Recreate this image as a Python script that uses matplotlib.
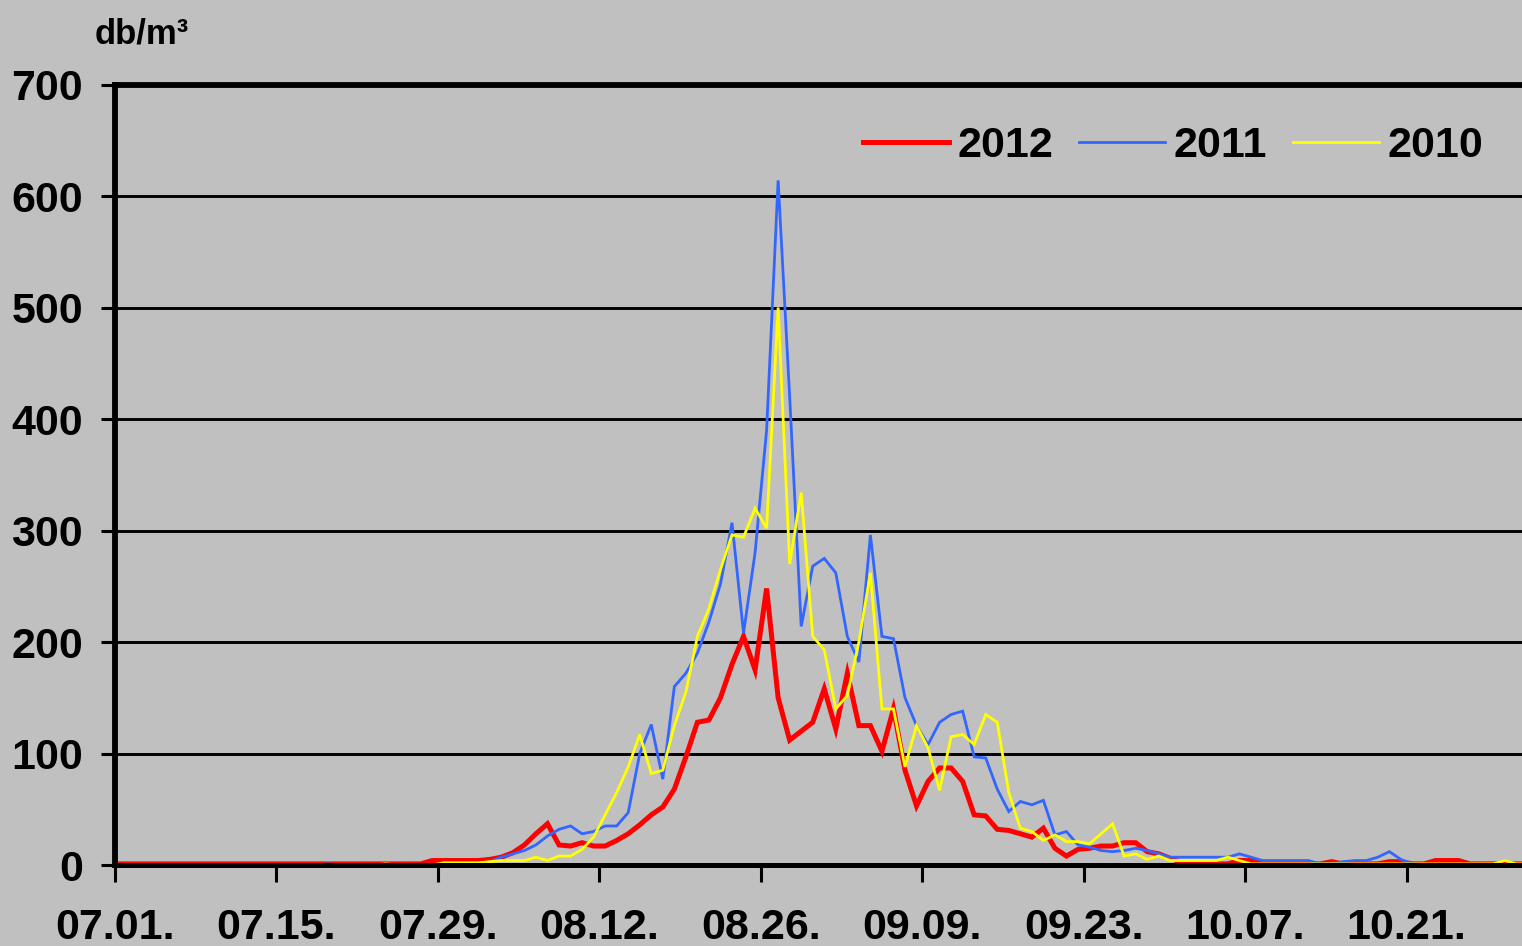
import numpy as np
import matplotlib
matplotlib.use("Agg")
import matplotlib.pyplot as plt

# daily values, 1 July .. 31 October (db/m3)
y2012 = [1] * 27 + [4, 4, 4, 4, 4, 5,
         7, 11, 18, 28, 37, 18, 17, 20, 17, 17,
         22, 28, 36, 45, 52, 68, 97, 128, 130, 150,
         180, 205, 175, 248, 150, 112, 120, 128, 158, 122,
         172, 125, 125, 102, 140, 85, 53, 75, 87, 87,
         75, 45, 44, 32, 31, 28, 25, 33, 15, 8,
         14, 15, 17, 17, 20, 20, 12, 10, 6, 2,
         1, 1, 1, 1, 4, 4, 1, 1, 1, 1,
         1, 1, 3, 1, 1, 1, 1, 3, 3, 1,
         1, 4, 4, 4, 1, 1, 1, 1, 1, 1, 1, 1]

y2011 = [0] * 18 + [1] + [0] * 9 + [1, 1, 1, 1, 3,
         7, 10, 13, 18, 26, 32, 35, 28, 30, 35,
         35, 47, 100, 126, 77, 160, 172, 190, 218, 252,
         307, 208, 280, 390, 614, 420, 214, 268, 275, 262,
         205, 182, 296, 205, 203, 150, 125, 108, 128, 135,
         138, 97, 96, 68, 48, 57, 54, 58, 27, 30,
         18, 16, 13, 12, 13, 15, 13, 10, 7, 7,
         7, 7, 7, 7, 10, 7, 4, 4, 4, 4,
         4, 1, 1, 3, 4, 4, 7, 12, 5, 1,
         0, 0, 0, 0, 0, 0, 0, 0, 0, 0]

y2010 = [0] * 23 + [1] + [0] * 4 + [2, 2, 2, 2, 3,
         4, 4, 4, 7, 4, 8, 8, 14, 25, 45,
         65, 88, 117, 82, 85, 125, 155, 205, 230, 265,
         296, 294, 320, 302, 500, 270, 334, 205, 193, 140,
         152, 200, 262, 140, 140, 88, 125, 105, 67, 115,
         117, 108, 135, 128, 65, 33, 30, 22, 27, 21,
         21, 19, 28, 37, 8, 10, 5, 8, 4, 4,
         4, 4, 4, 7, 4, 1, 1, 1, 1, 1,
         1, 1, 1, 1, 1, 1, 1, 1, 1, 1,
         1, 1, 1, 1, 1, 1, 1, 4, 1, 1, 1, 1, 1]

series_names = ["2012", "2011", "2010"]
series_colors = ["#FF0000", "#3366FF", "#FFFF00"]
series_widths = [3.6, 2.0, 2.0]

tick_days = [0, 14, 28, 42, 56, 70, 84, 98, 112]
tick_labels = ["07.01.", "07.15.", "07.29.", "08.12.", "08.26.",
               "09.09.", "09.23.", "10.07.", "10.21."]
y_ticks = [0, 100, 200, 300, 400, 500, 600, 700]

plt.rcParams['font.family'] = ['Liberation Sans', 'DejaVu Sans']
plt.rcParams['font.weight'] = 'bold'

bg = "#C0C0C0"
fig = plt.figure(figsize=(15.22, 9.46), dpi=100, facecolor=bg)
ax = fig.add_axes([115 / 1522, 1 - 865 / 946, 1 - 115 / 1522, (865 - 84.5) / 946])
ax.set_facecolor(bg)

for vals, name, col, lw in zip([y2012, y2011, y2010], series_names,
                               series_colors, series_widths):
    x = np.arange(len(vals)) + 0.5
    ax.plot(x, vals, color=col, lw=lw, label=name, solid_joinstyle='miter')

ax.set_xlim(0, 122)
ax.set_ylim(0, 700)
ax.set_xticks(tick_days)
ax.set_xticklabels(tick_labels)
ax.set_yticks(y_ticks)

ax.yaxis.grid(True, color='black', lw=2.1)
for s in ['right']:
    ax.spines[s].set_visible(False)
ax.spines['left'].set_linewidth(4.2)
ax.spines['bottom'].set_linewidth(3.6)
ax.spines['top'].set_linewidth(4.2)

ax.tick_params(axis='y', direction='out', length=10, width=2.2,
               pad=13, labelsize=31, colors='black')
ax.tick_params(axis='x', direction='out', length=12, width=2.2,
               pad=19, labelsize=31, colors='black')

fig.text(95 / 1522, 1 - 44 / 946, "db/m\u00b3", fontsize=25,
         fontweight='bold', va='baseline', ha='left')

leg = ax.legend(loc='center', bbox_to_anchor=(1173 / 1522, 1 - 146 / 946),
                bbox_transform=fig.transFigure, ncol=3, frameon=False,
                fontsize=31, handlelength=2.0, handletextpad=0.2,
                columnspacing=0.6)

fig.savefig("out.png", dpi=100, facecolor=bg)
